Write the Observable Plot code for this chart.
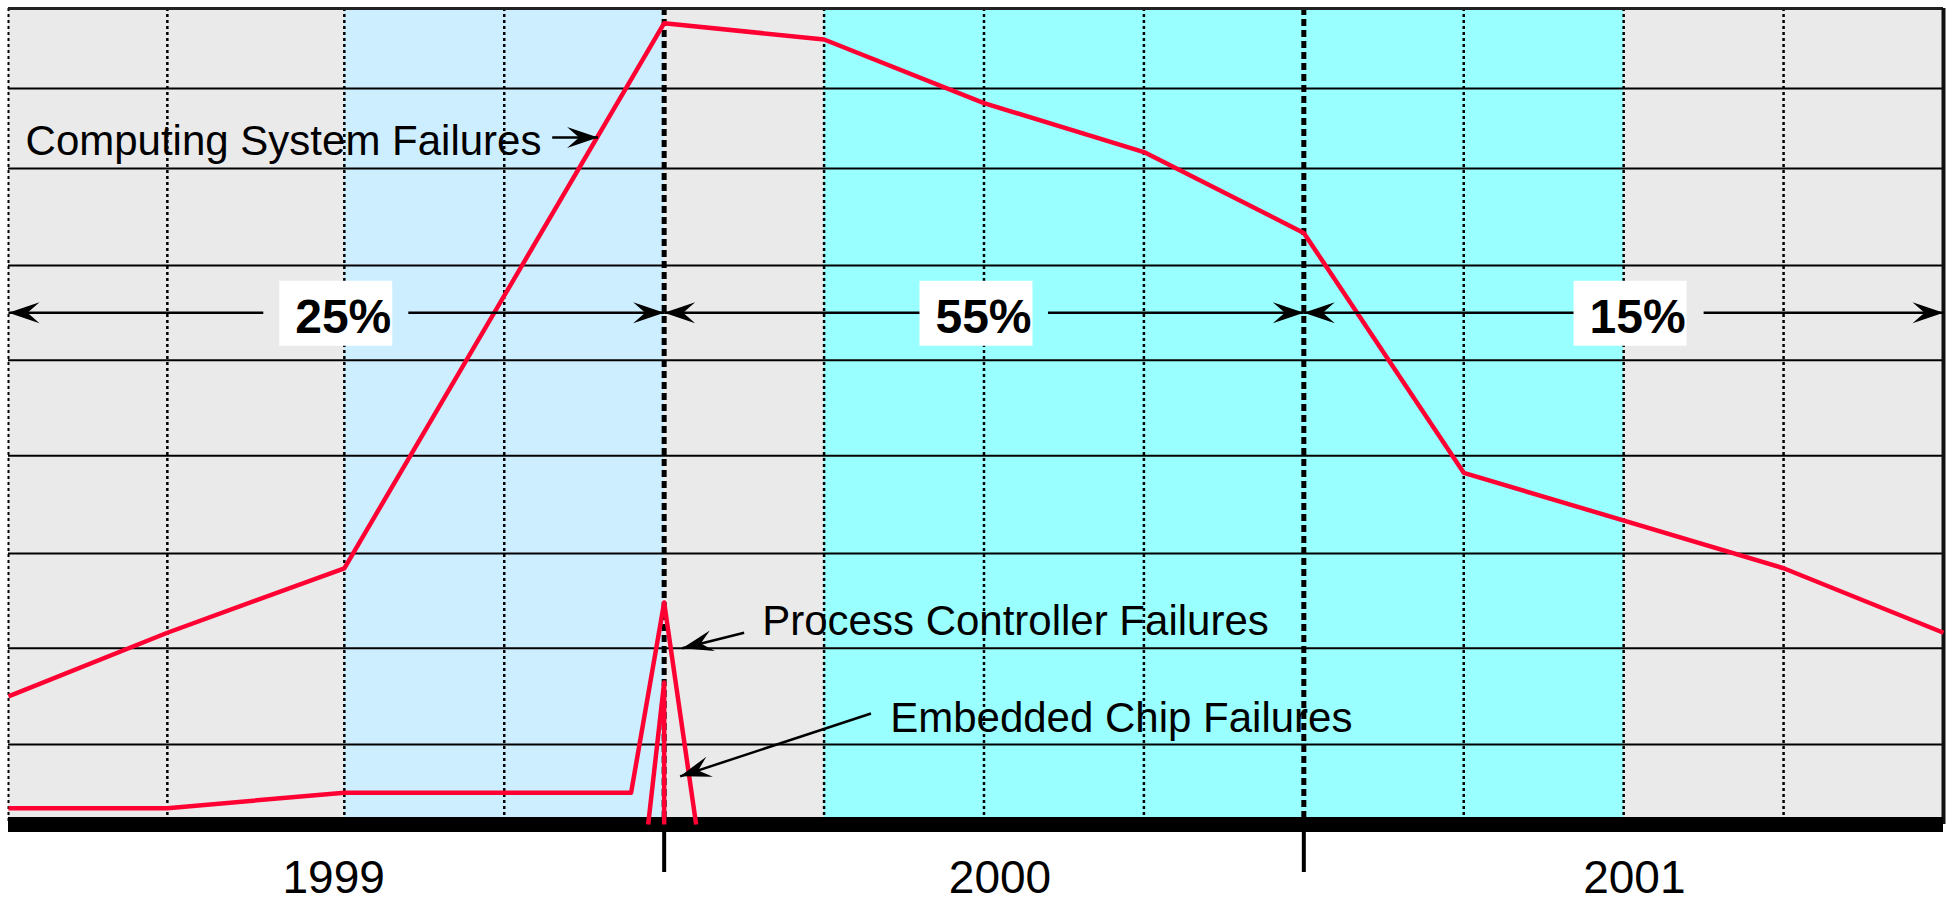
<!DOCTYPE html>
<html><head><meta charset="utf-8">
<script src="https://cdn.jsdelivr.net/npm/d3@7"></script>
<script src="https://cdn.jsdelivr.net/npm/@observablehq/plot@0.6"></script>
<style>html,body{margin:0;padding:0;background:#fff;}</style>
</head><body><div id="chart"></div>
<script>
// x: months since January 1999; y: relative failure level (arbitrary units)
const xDomain = [-0.3, 36];
const yDomain = [0, 100];

const csfMonths = [-0.3, 2.68, 6, 12, 15, 18, 21, 24, 27, 33, 36];
const csfValues = [15.7, 23.5, 31.4, 98.2, 96.2, 88.4, 82.4, 72.5, 43.1, 31.4, 23.5];

const pcfMonths = [-0.3, 2.68, 6, 11.38, 12, 12.6];
const pcfValues = [2.0, 2.0, 3.9, 3.9, 27.2, 0];

const ecfMonths = [11.7, 12, 12];
const ecfValues = [0, 17.4, 0];

const gridLevels = [9.8, 21.6, 33.2, 45.2, 56.9, 68.5, 80.4, 90.2];
const quarterTicks = [2.68, 6, 9, 15, 18, 21, 27, 30, 33];
const yearBoundaries = [12, 24];
const yearLabels = ["1999", "2000", "2001"];
const yearLabelMonths = [5.8, 18.3, 30.2];

const bandLightBlue = [6, 12];
const bandCyan = [15, 30];

const phaseLabels = ["25%", "55%", "15%"];
const phaseStart = [-0.3, 12, 24];
const phaseEnd = [12, 24, 36];
const phaseLabelMonths = [5.98, 17.99, 30.26];
const phaseGapLeft = [4.48, 16.8, 29.1];
const phaseGapRight = [7.2, 19.2, 31.5];
const phaseArrowLevel = 62.7;
const phaseLabelLevel = 60.2;

const seriesLabels = ["Computing System Failures", "Process Controller Failures", "Embedded Chip Failures"];
const seriesLabelMonths = [0.02, 13.84, 16.24];
const seriesLabelLevels = [82.0, 23.2, 11.3];
const pointerX1 = [9.9, 13.5, 15.88];
const pointerY1 = [84.2, 23.5, 13.6];
const pointerX2 = [10.76, 12.34, 12.3];
const pointerY2 = [84.2, 21.6, 5.9];

// ---- layout ----
const W = 1952, H = 900, mL = 8, mR = 9, mT = 8, mB = 76;
const RED = "#ff0033";
const xs = d3.scaleLinear(xDomain, [mL, W - mR]);
const ys = d3.scaleLinear(yDomain, [H - mB, mT]);

function headSymbol(angle, len = 31, half = 10.5, notch = 19) {
  const c = Math.cos(angle), s = Math.sin(angle);
  const pt = (x, y) => [x * c - y * s, x * s + y * c];
  return {
    draw(ctx) {
      const p = [pt(0, 0), pt(-len, -half), pt(-notch, 0), pt(-len, half)];
      ctx.moveTo(p[0][0], p[0][1]);
      for (let i = 1; i < p.length; i++) ctx.lineTo(p[i][0], p[i][1]);
      ctx.closePath();
    }
  };
}
const boxSymbol = {draw(ctx) { ctx.rect(-64, -32, 113, 65); }};

const series = (months, values) => months.map((m, i) => ({m, v: values[i]}));
const phases = phaseLabels.map((label, i) => ({
  label, start: phaseStart[i], end: phaseEnd[i], center: phaseLabelMonths[i],
  gl: phaseGapLeft[i], gr: phaseGapRight[i], y: phaseArrowLevel
}));
const phaseSegs = phases.flatMap(p => [{x1: p.start, x2: p.gl, y: p.y}, {x1: p.gr, x2: p.end, y: p.y}]);
const pointers = seriesLabels.map((s, i) => ({x1: pointerX1[i], y1: pointerY1[i], x2: pointerX2[i], y2: pointerY2[i]}));
const labels = seriesLabels.map((s, i) => ({s, x: seriesLabelMonths[i], y: seriesLabelLevels[i]}));

const headMarks = [];
for (const p of phases) {
  headMarks.push(Plot.dot([p], {x: "start", y: "y", symbol: headSymbol(Math.PI), fill: "black", stroke: "none"}));
  headMarks.push(Plot.dot([p], {x: "end", y: "y", symbol: headSymbol(0), fill: "black", stroke: "none"}));
}
for (const p of pointers) {
  const a = Math.atan2(ys(p.y2) - ys(p.y1), xs(p.x2) - xs(p.x1));
  headMarks.push(Plot.dot([p], {x: "x2", y: "y2", symbol: headSymbol(a), fill: "black", stroke: "none"}));
}

const chart = Plot.plot({
  width: W, height: H,
  marginLeft: mL, marginRight: mR, marginTop: mT, marginBottom: mB,
  x: {domain: xDomain},
  y: {domain: yDomain, axis: null},
  style: {fontFamily: "'Liberation Sans', Arial, sans-serif", background: "white", overflow: "visible"},
  marks: [
    Plot.rect([xDomain], {x1: d => d[0], x2: d => d[1], fill: "#eaeaea"}),
    Plot.rect([bandLightBlue], {x1: d => d[0], x2: d => d[1], fill: "#cceeff"}),
    Plot.rect([bandCyan], {x1: d => d[0], x2: d => d[1], fill: "#99ffff"}),
    Plot.ruleY(gridLevels, {stroke: "#000", strokeWidth: 2}),
    Plot.ruleX(quarterTicks, {stroke: "#000", strokeWidth: 2.5, strokeDasharray: "3,3"}),
    Plot.ruleX([xDomain[0]], {stroke: "#000", strokeWidth: 2, strokeDasharray: "3,3"}),
    Plot.ruleX(yearBoundaries, {stroke: "#000", strokeWidth: 5, strokeDasharray: "7,4"}),
    Plot.ruleY([yDomain[1]], {stroke: "#222", strokeWidth: 3}),
    Plot.ruleX([xDomain[1]], {stroke: "#111", strokeWidth: 4}),
    Plot.ruleY([0], {x1: xDomain[0], x2: xDomain[1], stroke: "#000", strokeWidth: 15}),
    Plot.axisX(yearBoundaries, {tickSize: 48, strokeWidth: 4, stroke: "#000", tickFormat: () => "", label: null}),
    Plot.text(yearLabels, {x: (d, i) => yearLabelMonths[i], frameAnchor: "bottom", lineAnchor: "bottom", dy: 68, fontSize: 46, fill: "#000"}),
    Plot.line(series(csfMonths, csfValues), {x: "m", y: "v", stroke: RED, strokeWidth: 4.5, strokeLinecap: "butt"}),
    Plot.line(series(pcfMonths, pcfValues), {x: "m", y: "v", stroke: RED, strokeWidth: 4.5, strokeLinecap: "butt"}),
    Plot.line(series(ecfMonths, ecfValues), {x: "m", y: "v", stroke: RED, strokeWidth: 4.5, strokeLinecap: "butt"}),
    Plot.text(labels, {x: "x", y: "y", text: "s", textAnchor: "start", lineAnchor: "bottom", fontSize: 42, fill: "#000"}),
    Plot.link(pointers, {x1: "x1", y1: "y1", x2: "x2", y2: "y2", stroke: "#000", strokeWidth: 2.5}),
    Plot.link(phaseSegs, {x1: "x1", x2: "x2", y1: "y", y2: "y", stroke: "#000", strokeWidth: 2.5}),
    Plot.dot(phases, {x: "center", y: "y", symbol: boxSymbol, fill: "white", stroke: "none"}),
    Plot.text(phases, {x: "center", y: () => phaseLabelLevel, text: "label", textAnchor: "middle", lineAnchor: "bottom", fontSize: 48, fontWeight: "bold", fill: "#000"}),
    ...headMarks
  ]
});
document.getElementById("chart").appendChild(chart);
</script>
</body></html>
